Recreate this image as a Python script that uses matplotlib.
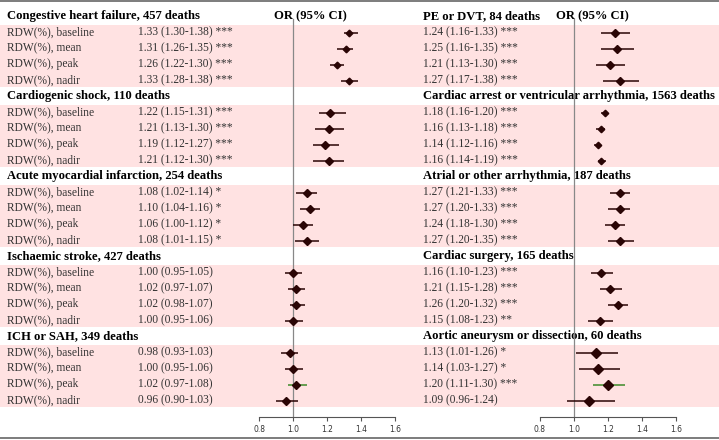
import matplotlib
matplotlib.use("Agg")
import matplotlib.pyplot as plt

# ---- data ----
left_groups = ["Congestive heart failure, 457 deaths",
               "Cardiogenic shock, 110 deaths",
               "Acute myocardial infarction, 254 deaths",
               "Ischaemic stroke, 427 deaths",
               "ICH or SAH, 349 deaths"]
right_groups = ["PE or DVT, 84 deaths",
                "Cardiac arrest or ventricular arrhythmia, 1563 deaths",
                "Atrial or other arrhythmia, 187 deaths",
                "Cardiac surgery, 165 deaths",
                "Aortic aneurysm or dissection, 60 deaths"]
measures = ["RDW(%), baseline", "RDW(%), mean", "RDW(%), peak", "RDW(%), nadir"]

left_or = [[1.33, 1.31, 1.26, 1.33],
           [1.22, 1.21, 1.19, 1.21],
           [1.08, 1.10, 1.06, 1.08],
           [1.00, 1.02, 1.02, 1.00],
           [0.98, 1.00, 1.02, 0.96]]
left_lo = [[1.30, 1.26, 1.22, 1.28],
           [1.15, 1.13, 1.12, 1.12],
           [1.02, 1.04, 1.00, 1.01],
           [0.95, 0.97, 0.98, 0.95],
           [0.93, 0.95, 0.97, 0.90]]
left_hi = [[1.38, 1.35, 1.30, 1.38],
           [1.31, 1.30, 1.27, 1.30],
           [1.14, 1.16, 1.12, 1.15],
           [1.05, 1.07, 1.07, 1.06],
           [1.03, 1.06, 1.08, 1.03]]
left_sig = [["***"] * 4, ["***"] * 4, ["*"] * 4, [""] * 4, [""] * 4]

right_or = [[1.24, 1.25, 1.21, 1.27],
            [1.18, 1.16, 1.14, 1.16],
            [1.27, 1.27, 1.24, 1.27],
            [1.16, 1.21, 1.26, 1.15],
            [1.13, 1.14, 1.20, 1.09]]
right_lo = [[1.16, 1.16, 1.13, 1.17],
            [1.16, 1.13, 1.12, 1.14],
            [1.21, 1.20, 1.18, 1.20],
            [1.10, 1.15, 1.20, 1.08],
            [1.01, 1.03, 1.11, 0.96]]
right_hi = [[1.33, 1.35, 1.30, 1.38],
            [1.20, 1.18, 1.16, 1.19],
            [1.33, 1.33, 1.30, 1.35],
            [1.23, 1.28, 1.32, 1.23],
            [1.26, 1.27, 1.30, 1.24]]
right_sig = [["***"] * 4, ["***"] * 4, ["***"] * 4,
             ["***", "***", "***", "**"], ["*", "*", "***", ""]]

# rows highlighted with a green CI line: (group, row)
left_green = [(4, 2)]
right_green = [(4, 2)]

left_msize = [3.4, 4.0, 3.6, 3.6, 4.0]
right_msize = [4.0, 3.3, 3.6, 4.0, 5.0]

xticks = [0.8, 1.0, 1.2, 1.4, 1.6]

# ---- layout (pixels) ----
W, H = 719, 440
ROW = 16
HEAD0 = 16.5
AXIS_Y = 417
BAND = "#FFE2E2"
DARK = "#2a0505"
GREEN = "#3d8a2a"
SERIF = "Liberation Serif"

fig = plt.figure(figsize=(W / 100, H / 100), dpi=100)
bg = fig.add_axes([0, 0, 1, 1])
bg.set_xlim(0, W)
bg.set_ylim(H, 0)
bg.axis("off")

bg.axhline(1, color="#666666", lw=1.2)
bg.axhline(438.5, color="#666666", lw=1.2)


def row_y(g, i):
    return HEAD0 + g * 5 * ROW + (i + 1) * ROW


for g in range(5):
    head = HEAD0 + g * 5 * ROW
    bg.axhspan(head + 9, head + 71, color=BAND, lw=0, zorder=0)
    bg.text(7, head, left_groups[g], fontsize=9.1, fontweight="bold",
            family=SERIF, va="center")
    bg.text(423, head, right_groups[g], fontsize=9.1, fontweight="bold",
            family=SERIF, va="center")
    for i in range(4):
        y = row_y(g, i)
        bg.text(7, y, measures[i], fontsize=8.3, family=SERIF,
                color="#333333", va="center")
        s = f"{left_or[g][i]:.2f} ({left_lo[g][i]:.2f}-{left_hi[g][i]:.2f}) {left_sig[g][i]}"
        bg.text(138, y, s.strip(), fontsize=8.3, family=SERIF,
                color="#333333", va="center")
        s = f"{right_or[g][i]:.2f} ({right_lo[g][i]:.2f}-{right_hi[g][i]:.2f}) {right_sig[g][i]}"
        bg.text(423, y, s.strip(), fontsize=8.3, family=SERIF,
                color="#333333", va="center")

bg.text(274, HEAD0, "OR (95% CI)", fontsize=9.1, fontweight="bold",
        family=SERIF, va="center")
bg.text(556, HEAD0, "OR (95% CI)", fontsize=9.1, fontweight="bold",
        family=SERIF, va="center")


def forest(x0, x1, ors, los, his, greens, msizes):
    ax = fig.add_axes([x0 / W, (H - AXIS_Y) / H, (x1 - x0) / W, AXIS_Y / H])
    ax.patch.set_alpha(0)
    ax.set_xlim(0.8, 1.6)
    ax.set_ylim(AXIS_Y, 0)
    for side in ["top", "right", "left"]:
        ax.spines[side].set_visible(False)
    ax.spines["bottom"].set_color("#555555")
    ax.spines["bottom"].set_linewidth(0.8)
    ax.set_yticks([])
    ax.set_xticks(xticks)
    ax.set_xticklabels([f"{t:.1f}" for t in xticks])
    ax.tick_params(axis="x", direction="out", length=3, width=0.8,
                   colors="#555555", labelsize=5.5, pad=3, labelcolor="#333333")
    ax.axvline(1.0, ymin=0, ymax=(AXIS_Y - 19) / AXIS_Y, color="#888888", lw=0.9, zorder=1)
    for g in range(5):
        for i in range(4):
            y = row_y(g, i)
            c = GREEN if (g, i) in greens else DARK
            ax.plot([los[g][i], his[g][i]], [y, y], color=c, lw=1.1,
                    solid_capstyle="butt", zorder=2, clip_on=False)
            ax.plot(ors[g][i], y, marker="D", ms=msizes[g], color=DARK,
                    mec=DARK, zorder=3, clip_on=False)
    return ax


forest(259, 395, left_or, left_lo, left_hi, left_green, left_msize)
forest(540, 676, right_or, right_lo, right_hi, right_green, right_msize)

fig.savefig("out.png", dpi=100)
